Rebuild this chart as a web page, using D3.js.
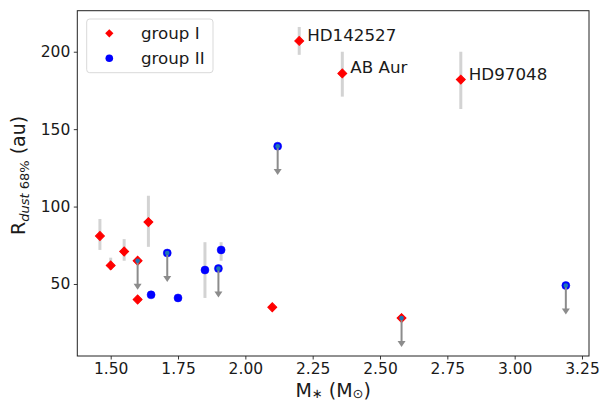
<!DOCTYPE html>
<html><head><meta charset="utf-8">
<script src="https://cdn.jsdelivr.net/npm/d3@7"></script>
<style>
body{margin:0;background:#fff;}
svg text{font-family:"DejaVu Sans",sans-serif;fill:#1a1a1a;}
</style></head>
<body><svg id="c" width="602" height="405"></svg>
<script>
// ---- data ----
const g1Mass  = [1.46, 1.50, 1.55, 1.60, 1.60, 1.64, 2.10, 2.20, 2.36, 2.58, 2.80];
const g1R     = [81,   62,   71,   65,   40,   90,   35,   207,  186,  28,   182];
const g1ErrLo = [72,   59,   65,   null, null, 74,   null, 198,  171,  null, 163];
const g1ErrHi = [92,   67,   79,   null, null, 107,  null, 216,  200,  null, 200];
const g1Upper = [false,false,false,true, false,false,false,false,false,true, false];
const g1Name  = ["", "", "", "", "", "", "", "HD142527", "AB Aur", "", "HD97048"];

const g2Mass  = [1.65, 1.71, 1.75, 1.85, 1.90, 1.91, 2.12, 3.19];
const g2R     = [43,   70,   41,   59,   60,   72,   139,  49];
const g2ErrLo = [null, null, null, 41,   null, 65,   null, null];
const g2ErrHi = [null, null, null, 77,   null, 77,   null, null];
const g2Upper = [false,true, false,false,true, false,true, true];

const upperDrop = 18; // length of upper-limit arrows (au)
const xTicks = [1.50, 1.75, 2.00, 2.25, 2.50, 2.75, 3.00, 3.25];
const yTicks = [50, 100, 150, 200];
const legendLabels = ["group I", "group II"];

// ---- layout ----
const L = 77.3, R = 589, T = 10.7, B = 356;
const svg = d3.select("#c");
const x = d3.scaleLinear().domain([1.376, 3.276]).range([L, R]);
const y = d3.scaleLinear().domain([3.5, 226.5]).range([B, T]);

const pts = [];
g1Mass.forEach((m,i)=>pts.push({g:1,m,r:g1R[i],lo:g1ErrLo[i],hi:g1ErrHi[i],ul:g1Upper[i],name:g1Name[i]}));
g2Mass.forEach((m,i)=>pts.push({g:2,m,r:g2R[i],lo:g2ErrLo[i],hi:g2ErrHi[i],ul:g2Upper[i],name:""}));

// axes
const xAxis = d3.axisBottom(x).tickValues(xTicks).tickFormat(d3.format(".2f")).tickSize(3.5).tickPadding(3.5);
const yAxis = d3.axisLeft(y).tickValues(yTicks).tickFormat(d3.format("d")).tickSize(3.5).tickPadding(3.5);
const gx = svg.append("g").attr("transform",`translate(0,${B})`).call(xAxis);
const gy = svg.append("g").attr("transform",`translate(${L},0)`).call(yAxis);
[gx,gy].forEach(g=>{
  g.select(".domain").remove();
  g.selectAll(".tick line").attr("stroke","#222").attr("stroke-width",0.9);
  g.selectAll(".tick text").attr("font-size","15.5px").attr("fill","#1a1a1a").attr("font-family","DejaVu Sans");
});

// error bars
svg.append("g").selectAll("line").data(pts.filter(d=>d.lo!=null)).join("line")
  .attr("x1",d=>x(d.m)).attr("x2",d=>x(d.m))
  .attr("y1",d=>y(d.lo)).attr("y2",d=>y(d.hi))
  .attr("stroke","#d3d3d3").attr("stroke-width",3);

// markers
svg.append("g").selectAll("path").data(pts.filter(d=>d.g===1)).join("path")
  .attr("d",d3.symbol().type(d3.symbolSquare).size(40))
  .attr("transform",d=>`translate(${x(d.m)},${y(d.r)}) rotate(45)`)
  .attr("fill","#ff0000").attr("stroke","#ff0000").attr("stroke-width",1);
svg.append("g").selectAll("circle").data(pts.filter(d=>d.g===2)).join("circle")
  .attr("cx",d=>x(d.m)).attr("cy",d=>y(d.r)).attr("r",4)
  .attr("fill","#0000ff").attr("stroke","#0000ff").attr("stroke-width",0.5);

// upper limit arrows
const ul = pts.filter(d=>d.ul);
const ga = svg.append("g");
ga.selectAll("line").data(ul).join("line")
  .attr("x1",d=>x(d.m)).attr("x2",d=>x(d.m))
  .attr("y1",d=>y(d.r)).attr("y2",d=>y(d.r-upperDrop)-3)
  .attr("stroke","#8c8c8c").attr("stroke-width",2);
ga.selectAll("path").data(ul).join("path")
  .attr("d",d=>{const cx=x(d.m), ty=y(d.r-upperDrop); return `M${cx-4},${ty-5}L${cx+4},${ty-5}L${cx},${ty+1}Z`;})
  .attr("fill","#8c8c8c");
ga.selectAll("circle").data(ul).join("circle")
  .attr("cx",d=>x(d.m)).attr("cy",d=>y(d.r)).attr("r",2.3)
  .attr("fill","#1f77b4");

// labels
svg.append("g").selectAll("text").data(pts.filter(d=>d.name)).join("text")
  .attr("x",d=>x(d.m)+8).attr("y",d=>y(d.r)-6)
  .attr("dominant-baseline","central")
  .attr("font-size","16.7px").text(d=>d.name);

// frame
svg.append("rect").attr("x",L).attr("y",T).attr("width",R-L).attr("height",B-T)
  .attr("fill","none").attr("stroke","#222").attr("stroke-width",1);

// legend
const lg = svg.append("g");
lg.append("rect").attr("x",86.7).attr("y",19).attr("width",126.3).attr("height",53.7)
  .attr("rx",3).attr("fill","#fff").attr("fill-opacity",0.8).attr("stroke","#d9d9d9").attr("stroke-width",1);
lg.append("path").attr("d",d3.symbol().type(d3.symbolSquare).size(34)())
  .attr("transform","translate(109.3,33.3) rotate(45)").attr("fill","#ff0000");
lg.append("circle").attr("cx",109.3).attr("cy",58.3).attr("r",3.8).attr("fill","#0000ff");
lg.selectAll("text").data(legendLabels).join("text")
  .attr("x",141).attr("y",(d,i)=>33.3+i*25).attr("dominant-baseline","central")
  .attr("font-size","16.7px").text(d=>d);

// axis labels
const xl = svg.append("text").attr("x",(L+R)/2).attr("y",390).attr("text-anchor","middle")
  .attr("dominant-baseline","central").attr("font-size","19px");
xl.append("tspan").text("M");
xl.append("tspan").attr("font-size","13px").attr("dy",3).text("∗");
xl.append("tspan").attr("dy",-3).text(" (M");
xl.append("tspan").attr("font-size","13px").attr("dy",3).text("⊙");
xl.append("tspan").attr("dy",-3).text(")");

const yl = svg.append("text").attr("transform",`translate(25,${(T+B)/2-8}) rotate(-90)`)
  .attr("text-anchor","middle").attr("font-size","19px");
yl.append("tspan").text("R");
const sub = yl.append("tspan").attr("font-size","13px").attr("dy",4);
sub.append("tspan").attr("font-style","italic").text("dust");
yl.append("tspan").attr("font-size","13px").text(" 68%");
yl.append("tspan").attr("dy",-4).text(" (au)");
</script></body></html>
